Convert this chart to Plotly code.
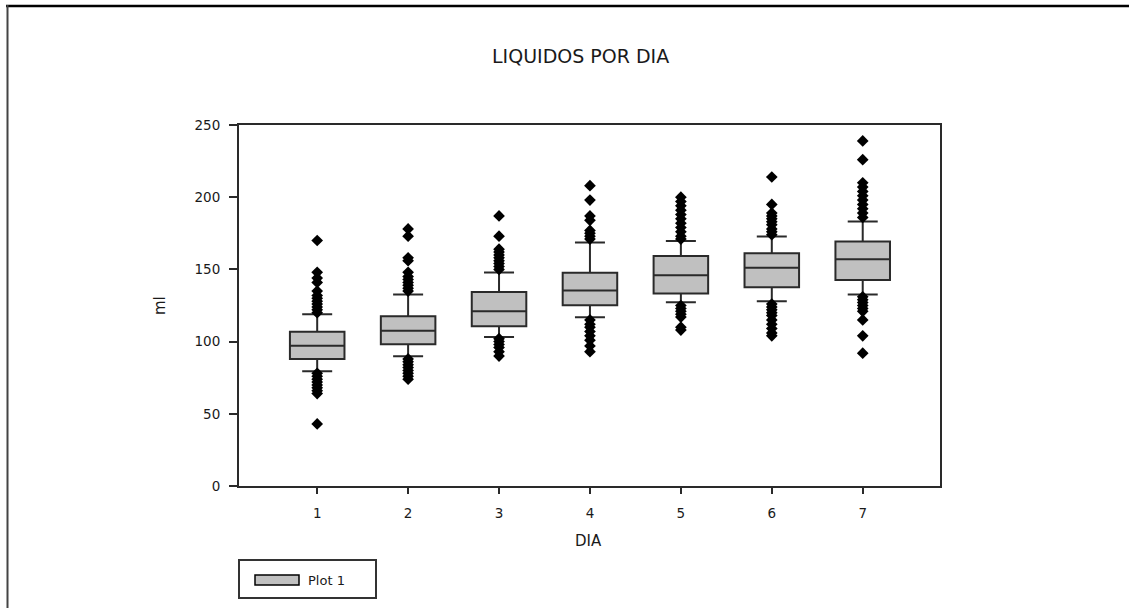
import plotly.graph_objects as go

# ---------------- data ----------------
days = [1, 2, 3, 4, 5, 6, 7]
q1 = [88.0, 98.1, 110.6, 125.2, 133.3, 137.7, 142.6]
median = [97.2, 107.6, 121.0, 135.4, 146.0, 151.2, 157.0]
q3 = [106.8, 117.6, 134.3, 147.7, 159.3, 161.1, 169.4]
lower_whisker = [79.4, 89.8, 103.2, 116.9, 127.3, 128.0, 132.6]
upper_whisker = [119.0, 132.6, 147.9, 168.7, 169.7, 172.7, 183.1]

outliers_day1 = [170, 148, 144, 141, 135, 132, 130, 128, 126, 124, 122, 120,
                 78, 76, 74, 72, 70, 68, 66, 64, 43]
outliers_day2 = [178, 173, 158, 156, 148, 145, 143, 141, 139, 137, 135,
                 88, 86, 84, 82, 80, 78, 76, 74]
outliers_day3 = [187, 173, 164, 162, 160, 158, 156, 154, 152, 150,
                 102, 100, 98, 96, 93, 90]
outliers_day4 = [208, 198, 187, 184, 177, 175, 173, 171,
                 115, 112, 110, 107, 104, 101, 97, 93]
outliers_day5 = [200, 197, 194, 191, 188, 185, 182, 179, 176, 173, 171,
                 125, 123, 121, 119, 117, 110, 108]
outliers_day6 = [214, 195, 189, 187, 185, 183, 181, 178, 176, 174,
                 126, 124, 122, 120, 118, 115, 112, 109, 106, 104]
outliers_day7 = [239, 226, 210, 207, 204, 201, 198, 195, 192, 189, 186,
                 131, 129, 127, 125, 123, 121, 115, 104, 92]
outliers = [outliers_day1, outliers_day2, outliers_day3, outliers_day4,
            outliers_day5, outliers_day6, outliers_day7]

y_ticks = [0, 50, 100, 150, 200, 250]
title_text = "LIQUIDOS POR DIA"
x_title = "DIA"
y_title = "ml"
legend_label = "Plot 1"

# ---------------- layout geometry ----------------
W, H = 1129, 608
L, R, T, B = 239, 940, 125, 486   # plot area in pixels


def px_x(px):
    return (px - L) / (R - L)


def px_y(py):
    return (B - py) / (B - T)


FONT = "DejaVu Sans"
TXT = "#1a1a1a"
LINE = "#2a2a2a"

fig = go.Figure()

fig.add_trace(go.Box(
    x=days, q1=q1, median=median, q3=q3,
    lowerfence=lower_whisker, upperfence=upper_whisker,
    boxpoints=False, width=0.6, whiskerwidth=0.55,
    fillcolor="#c0c0c0", line=dict(color=LINE, width=2),
    showlegend=False, hoverinfo="skip",
))

ox, oy = [], []
for d, vals in zip(days, outliers):
    for v in vals:
        ox.append(d)
        oy.append(v)

fig.add_trace(go.Scatter(
    x=ox, y=oy, mode="markers",
    marker=dict(symbol="diamond", size=9, color="black",
                line=dict(width=0)),
    showlegend=False, hoverinfo="skip",
))

axis_common = dict(
    showline=True, linecolor=LINE, linewidth=2, mirror=True,
    ticks="outside", tickcolor=LINE, tickwidth=2,
    showgrid=False, zeroline=False,
    tickfont=dict(family=FONT, size=13.5, color=TXT),
)

fig.update_xaxes(range=[0.14, 7.85], tickvals=days, ticktext=[str(d) for d in days],
                 ticklen=6, ticklabelstandoff=8, **axis_common)
fig.update_yaxes(range=[0, 250], tickvals=y_ticks, ticklen=8,
                 ticklabelstandoff=6, **axis_common)

shapes = [
    # outer frame (top and left)
    dict(type="line", xref="paper", yref="paper", x0=px_x(6), x1=px_x(W),
         y0=px_y(6), y1=px_y(6), line=dict(color="black", width=2.5)),
    dict(type="line", xref="paper", yref="paper", x0=px_x(7.5), x1=px_x(7.5),
         y0=px_y(5), y1=px_y(H), line=dict(color="#444", width=2)),
    # legend box
    dict(type="rect", xref="paper", yref="paper", x0=px_x(239), x1=px_x(376),
         y0=px_y(560), y1=px_y(598), line=dict(color="#333", width=2),
         fillcolor="white"),
    dict(type="rect", xref="paper", yref="paper", x0=px_x(255), x1=px_x(299),
         y0=px_y(575), y1=px_y(585), line=dict(color="black", width=1.5),
         fillcolor="#c0c0c0"),
]

annotations = [
    dict(text=title_text, xref="paper", yref="paper", x=px_x(580), y=px_y(56),
         xanchor="center", yanchor="middle", showarrow=False,
         font=dict(family=FONT, size=19, color=TXT)),
    dict(text=x_title, xref="paper", yref="paper", x=px_x(588), y=px_y(541),
         xanchor="center", yanchor="middle", showarrow=False,
         font=dict(family=FONT, size=15, color=TXT)),
    dict(text=y_title, xref="paper", yref="paper", x=px_x(160), y=px_y(306),
         xanchor="center", yanchor="middle", showarrow=False, textangle=-90,
         font=dict(family=FONT, size=15, color=TXT)),
    dict(text=legend_label, xref="paper", yref="paper", x=px_x(306), y=px_y(580),
         xanchor="left", yanchor="middle", showarrow=False,
         font=dict(family=FONT, size=13, color=TXT)),
]

fig.update_layout(
    width=W, height=H,
    margin=dict(l=L, r=W - R, t=T, b=H - B, pad=0),
    paper_bgcolor="white", plot_bgcolor="white",
    shapes=shapes, annotations=annotations,
    showlegend=False,
)

fig.write_html("out.html")
